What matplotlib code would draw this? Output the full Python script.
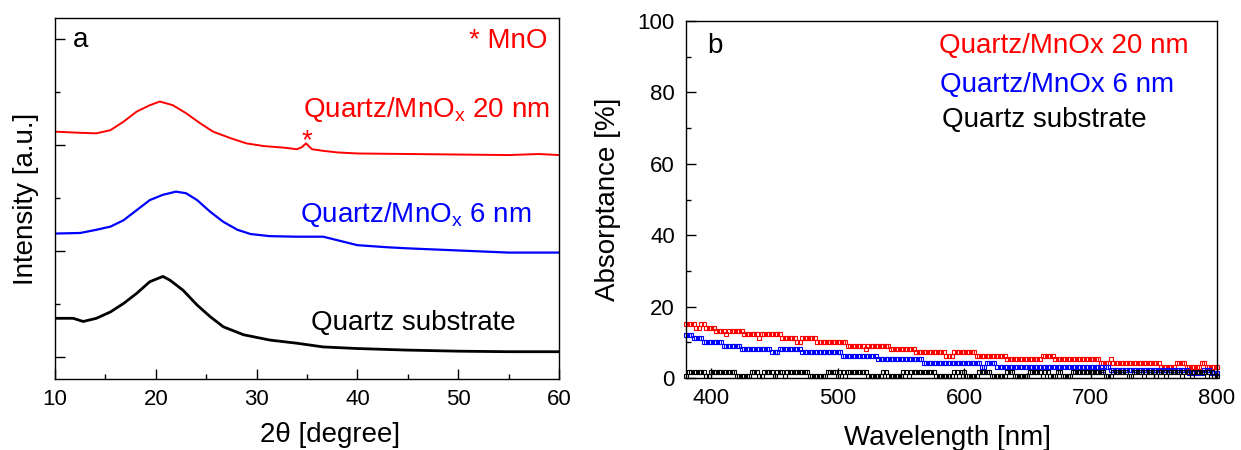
import numpy as np
import matplotlib
matplotlib.use("Agg")
import matplotlib.pyplot as plt
from matplotlib.ticker import MultipleLocator, NullFormatter

plt.rcParams['font.family'] = ['Liberation Sans', 'DejaVu Sans']
plt.rcParams['mathtext.fontset'] = 'custom'
plt.rcParams['mathtext.rm'] = 'Liberation Sans'
plt.rcParams['mathtext.it'] = 'Liberation Sans:italic'

RED = '#ff0000'
BLUE = '#0000ff'

# (a) XRD patterns, offset traces in arbitrary units
sub_2theta = [10.2, 11.8, 12.8, 14.1, 15.5, 16.8, 18.1, 19.4, 20.7, 21.4, 22.7, 24.1,
              25.4, 26.7, 28.7, 31.3, 34.0, 36.6, 40, 45, 50, 55, 60]
sub_int = [0.73, 0.73, 0.67, 0.73, 0.85, 1.01, 1.20, 1.42, 1.52, 1.45, 1.26, 0.98,
           0.76, 0.57, 0.42, 0.32, 0.26, 0.19, 0.16, 0.13, 0.11, 0.10, 0.10]

mn6_2theta = [10.2, 12.5, 14.1, 15.5, 16.8, 18.1, 19.4, 20.7, 22.0, 23.0, 24.1, 25.4,
              26.7, 28.1, 29.4, 31.3, 34.0, 36.6, 40, 43, 45, 50, 55, 60]
mn6_int = [2.33, 2.34, 2.40, 2.46, 2.58, 2.77, 2.96, 3.06, 3.12, 3.09, 2.96, 2.74,
           2.55, 2.40, 2.32, 2.28, 2.27, 2.27, 2.11, 2.07, 2.05, 2.01, 1.97, 1.97]

mn20_2theta = [10.2, 12.5, 14.1, 15.5, 16.8, 18.1, 19.4, 20.4, 21.7, 23.0, 24.4, 25.7,
               27.4, 29.0, 30.7, 32.7, 34.0, 34.5, 34.9, 35.5, 36.6, 38, 40, 45, 50,
               55, 58, 60]
mn20_int = [4.25, 4.23, 4.22, 4.28, 4.44, 4.63, 4.75, 4.82, 4.75, 4.60, 4.41, 4.25,
            4.13, 4.03, 3.98, 3.95, 3.92, 3.96, 4.03, 3.92, 3.89, 3.86, 3.84, 3.83,
            3.82, 3.81, 3.83, 3.81]
mno_peak = (35.0, 3.94)

# (b) absorptance, plateau start wavelength [nm] and level [%]
red_starts = [380, 388, 391, 396, 404, 412, 414, 425, 437, 439, 455, 467, 471, 483,
              508, 521, 524, 541, 561, 585, 592, 609, 634, 662, 672, 707, 715, 718,
              755, 768, 776, 788, 792]
red_levels = [15.2, 14.1, 15.2, 14.1, 13.2, 12.2, 13.2, 12.2, 11.2, 12.2, 11.2, 10.1,
              11.2, 10.1, 9.1, 8.1, 9.1, 8.1, 7.2, 6.2, 7.2, 6.2, 5.2, 6.2, 5.2, 4.1,
              5.2, 4.1, 3.2, 4.1, 3.2, 4.1, 3.2]

blue_starts = [380, 385, 394, 410, 423, 447, 454, 471, 504, 532, 567, 613, 617, 625,
               709, 712, 716, 778, 790, 795]
blue_levels = [12.0, 11.1, 10.0, 9.1, 8.1, 7.2, 8.1, 7.2, 6.2, 5.2, 4.1, 3.2, 4.1, 3.2,
               2.3, 3.2, 2.3, 1.4, 2.3, 1.4]

sub_base = 0.6
sub_spike = 1.7
sub_spikes = [(381, 384), (386, 395), (400, 418), (432, 437), (442, 449), (452, 456),
              (459, 477), (491, 498), (501, 505), (508, 523), (536, 539), (551, 554),
              (557, 577), (591, 594), (598, 601), (611, 620), (633, 638), (652, 660),
              (664, 667), (674, 677), (685, 711), (718, 728), (733, 740), (744, 750),
              (753, 758), (761, 770), (773, 779), (782, 790), (793, 797)]

wl = np.arange(380, 801, 2)


def plateaus(starts, levels):
    idx = np.searchsorted(starts, wl, side='right') - 1
    return np.asarray(levels)[idx]


red_abs = plateaus(red_starts, red_levels)
blue_abs = plateaus(blue_starts, blue_levels)
sub_abs = np.full(wl.shape, sub_base)
for lo, hi in sub_spikes:
    sub_abs[(wl >= lo) & (wl <= hi)] = sub_spike

fig = plt.figure(figsize=(12.41, 4.5), dpi=100)
ax1 = fig.add_axes([55 / 1241, 71 / 450, 504 / 1241, 361 / 450])
ax2 = fig.add_axes([686 / 1241, 72 / 450, 531 / 1241, 357 / 450])

for ax in (ax1, ax2):
    for sp in ax.spines.values():
        sp.set_linewidth(1.0)
    ax.tick_params(which='both', direction='in', width=1.0, top=False, right=False,
                   labelsize=16)
    ax.tick_params(which='major', length=7)
    ax.tick_params(which='minor', length=3.5)

# panel a
ax1.plot(sub_2theta, sub_int, color='black', lw=2.0)
ax1.plot(mn6_2theta, mn6_int, color=BLUE, lw=1.6)
ax1.plot(mn20_2theta, mn20_int, color=RED, lw=1.4)
ax1.set_xlim(10, 60)
ax1.set_ylim(-0.415, 6.396)
ax1.xaxis.set_major_locator(MultipleLocator(10))
ax1.xaxis.set_minor_locator(MultipleLocator(5))
ax1.yaxis.set_major_locator(MultipleLocator(2))
ax1.yaxis.set_minor_locator(MultipleLocator(1))
ax1.yaxis.set_major_formatter(NullFormatter())
ax1.tick_params(axis='x', pad=7)
ax1.set_xlabel(u'2\u03b8 [degree]', fontsize=20, va='top')
ax1.xaxis.set_label_coords(0.546, -0.119)
ax1.set_ylabel('Intensity [a.u.]', fontsize=20)
ax1.yaxis.set_label_coords(-0.032, 0.5)

ax1.text(0.036, 0.92, 'a', transform=ax1.transAxes, fontsize=20, va='baseline')
ax1.text(0.978, 0.917, '* MnO', transform=ax1.transAxes, fontsize=20, color=RED,
         ha='right', va='baseline')
ax1.text(0.982, 0.726, r'Quartz/MnO$_\mathrm{x}$ 20 nm', transform=ax1.transAxes,
         fontsize=20, color=RED, ha='right', va='baseline')
ax1.text(mno_peak[0], mno_peak[1], '*', fontsize=20, color=RED, ha='center',
         va='baseline')
ax1.text(0.946, 0.435, r'Quartz/MnO$_\mathrm{x}$ 6 nm', transform=ax1.transAxes,
         fontsize=20, color=BLUE, ha='right', va='baseline')
ax1.text(0.913, 0.136, 'Quartz substrate', transform=ax1.transAxes, fontsize=20,
         color='black', ha='right', va='baseline')

# panel b
mk = dict(ls='none', marker='s', ms=3.2, mfc='none', mew=0.8, clip_on=False)
ax2.plot(wl, red_abs, color=RED, **mk)
ax2.plot(wl, blue_abs, color=BLUE, **mk)
ax2.plot(wl, sub_abs, color='black', **mk)
ax2.set_xlim(380, 800)
ax2.set_ylim(0, 100)
ax2.xaxis.set_major_locator(MultipleLocator(100))
ax2.xaxis.set_minor_locator(MultipleLocator(50))
ax2.yaxis.set_major_locator(MultipleLocator(20))
ax2.yaxis.set_minor_locator(MultipleLocator(10))
ax2.tick_params(axis='x', pad=7)
ax2.tick_params(axis='y', pad=8)
ax2.set_xlabel('Wavelength [nm]', fontsize=20, va='top')
ax2.xaxis.set_label_coords(0.493, -0.132)
ax2.set_ylabel('Absorptance [%]', fontsize=20)
ax2.yaxis.set_label_coords(-0.122, 0.5)

ax2.text(0.040, 0.911, 'b', transform=ax2.transAxes, fontsize=20, va='baseline')
ax2.text(0.476, 0.909, 'Quartz/MnOx 20 nm', transform=ax2.transAxes, fontsize=20,
         color=RED, va='baseline')
ax2.text(0.479, 0.802, 'Quartz/MnOx 6 nm', transform=ax2.transAxes, fontsize=20,
         color=BLUE, va='baseline')
ax2.text(0.482, 0.704, 'Quartz substrate', transform=ax2.transAxes, fontsize=20,
         color='black', va='baseline')

fig.savefig('out.png', dpi=100)
